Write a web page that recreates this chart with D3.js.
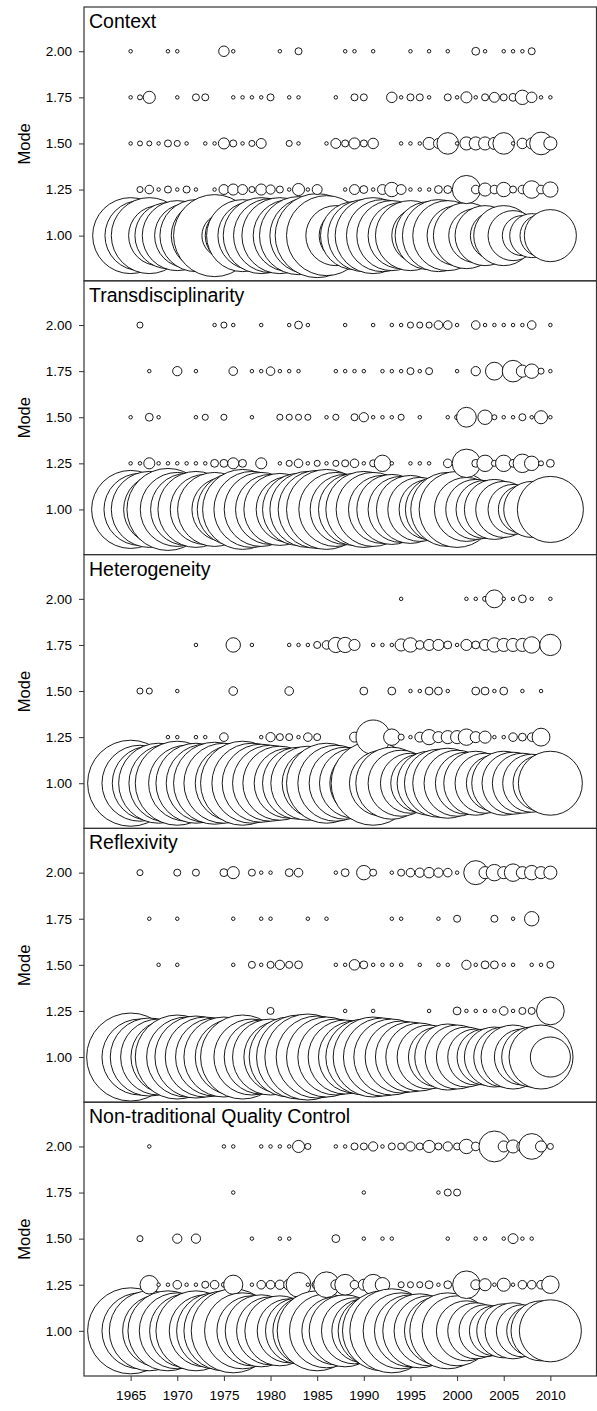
<!DOCTYPE html>
<html><head><meta charset="utf-8">
<script src="https://cdn.jsdelivr.net/npm/d3@7"></script>
<style>body{margin:0;background:#fff}svg{display:block}</style>
</head><body><svg id="chart" width="597" height="1411"></svg>
<script>
// ---------- DATA ----------
const years = [1965,1966,1967,1968,1969,1970,1971,1972,1973,1974,1975,1976,1977,1978,1979,1980,1981,1982,1983,1984,1985,1986,1987,1988,1989,1990,1991,1992,1993,1994,1995,1996,1997,1998,1999,2000,2001,2002,2003,2004,2005,2006,2007,2008,2009,2010];
const modeTicks = [1.00, 1.25, 1.50, 1.75, 2.00];
const yearTicks = [1965, 1970, 1975, 1980, 1985, 1990, 1995, 2000, 2005, 2010];
const panelTitles = ["Context", "Transdisciplinarity", "Heterogeneity", "Reflexivity", "Non-traditional Quality Control"];

// Context  (mode 1.00 counts per year; other modes as [year, count])
const context100 = [471,400,471,294,356,400,334,423,377,549,158,256,423,377,471,447,471,423,497,471,576,522,294,221,377,423,471,423,400,356,400,256,377,423,400,294,356,238,294,188,294,204,131,158,144,221];
const context125 = [[1966,3],[1967,6],[1968,1],[1969,4],[1970,1],[1971,4],[1972,1],[1974,1],[1975,8],[1976,10],[1977,8],[1978,3],[1979,10],[1980,7],[1981,4],[1982,1],[1983,12],[1984,1],[1985,8],[1988,1],[1989,8],[1990,5],[1991,1],[1992,8],[1993,17],[1994,8],[1995,1],[1996,1],[1997,1],[1998,5],[1999,5],[2001,65],[2002,6],[2003,14],[2004,6],[2005,17],[2006,4],[2007,6],[2008,25],[2009,6],[2010,19]];
const context150 = [[1965,1],[1966,2],[1967,2],[1968,1],[1969,4],[1970,3],[1971,1],[1973,1],[1974,1],[1975,10],[1976,4],[1977,1],[1978,3],[1979,8],[1982,3],[1983,1],[1986,1],[1987,8],[1988,4],[1989,10],[1990,4],[1991,9],[1994,1],[1995,1],[1996,1],[1997,12],[1998,8],[1999,38],[2000,1],[2001,14],[2002,14],[2003,14],[2004,12],[2005,38],[2006,1],[2007,9],[2008,10],[2009,42],[2010,14]];
const context175 = [[1965,1],[1966,2],[1967,12],[1970,1],[1972,4],[1973,4],[1976,1],[1977,1],[1978,1],[1979,1],[1980,4],[1982,1],[1983,1],[1987,1],[1989,4],[1990,4],[1993,9],[1994,1],[1995,4],[1996,4],[1997,1],[1999,4],[2000,1],[2001,10],[2002,1],[2003,4],[2004,8],[2005,4],[2006,5],[2007,17],[2008,9],[2009,1],[2010,1]];
const context200 = [[1965,1],[1969,1],[1970,1],[1975,9],[1976,1],[1981,1],[1983,4],[1988,1],[1989,1],[1991,1],[1995,1],[1997,1],[1999,1],[2002,5],[2003,1],[2005,1],[2006,1],[2007,1],[2008,4]];

// Transdisciplinarity
const trans100 = [497,423,471,400,549,447,423,471,400,447,334,423,522,471,447,400,423,356,423,471,497,522,447,400,423,471,447,377,400,356,377,334,294,356,447,471,334,294,275,294,256,204,188,256,158,356];
const trans125 = [[1965,1],[1966,1],[1967,10],[1968,1],[1969,1],[1970,1],[1971,1],[1972,1],[1973,1],[1974,5],[1975,5],[1976,10],[1977,5],[1979,10],[1981,1],[1982,3],[1983,6],[1984,1],[1985,3],[1986,1],[1987,3],[1988,4],[1989,6],[1990,1],[1991,4],[1992,22],[1993,1],[1995,1],[1996,1],[1997,1],[1999,6],[2001,66],[2002,5],[2003,22],[2004,3],[2005,22],[2006,5],[2007,28],[2008,17],[2009,2],[2010,5]];
const trans150 = [[1965,1],[1967,5],[1968,1],[1972,1],[1973,3],[1975,3],[1978,1],[1981,3],[1982,3],[1983,3],[1984,3],[1986,1],[1987,3],[1989,4],[1990,7],[1991,1],[1992,1],[1993,1],[1994,3],[1996,1],[1999,1],[2000,2],[2001,32],[2003,17],[2004,2],[2005,1],[2006,1],[2007,4],[2008,1],[2009,14],[2010,1]];
const trans175 = [[1967,1],[1970,7],[1972,1],[1976,6],[1978,1],[1979,1],[1980,6],[1981,1],[1982,1],[1983,1],[1987,1],[1988,1],[1989,1],[1990,1],[1992,1],[1993,1],[1994,1],[1995,4],[1996,1],[1997,4],[2000,1],[2002,7],[2004,26],[2006,38],[2007,12],[2008,17],[2009,3],[2010,1]];
const trans200 = [[1966,3],[1974,1],[1975,3],[1976,1],[1979,1],[1982,1],[1983,5],[1984,1],[1988,1],[1991,1],[1993,1],[1994,1],[1995,3],[1996,3],[1997,3],[1998,6],[1999,6],[2000,1],[2002,6],[2003,1],[2004,1],[2005,1],[2006,1],[2007,1],[2008,6],[2010,1]];

// Heterogeneity
const hetero100 = [604,471,447,522,497,576,471,522,497,549,522,471,576,522,497,471,447,400,423,447,400,522,471,423,400,377,576,356,423,356,294,275,334,377,400,356,314,334,294,256,334,314,294,275,256,334];
const hetero125 = [[1969,1],[1970,1],[1972,1],[1973,1],[1975,6],[1979,1],[1980,7],[1981,4],[1982,4],[1983,1],[1984,6],[1985,4],[1989,8],[1991,96],[1993,22],[1994,3],[1995,1],[1996,8],[1997,19],[1998,10],[1999,14],[2000,14],[2001,22],[2002,10],[2003,12],[2004,1],[2005,1],[2006,6],[2007,5],[2008,6],[2009,26]];
const hetero150 = [[1966,3],[1967,3],[1970,1],[1976,6],[1982,6],[1990,5],[1993,5],[1995,1],[1996,1],[1997,5],[1998,5],[1999,1],[2002,5],[2003,5],[2004,1],[2005,5],[2007,1],[2009,1]];
const hetero175 = [[1972,1],[1976,17],[1978,1],[1982,1],[1983,1],[1984,1],[1985,4],[1986,6],[1987,19],[1988,19],[1989,10],[1991,1],[1992,1],[1993,1],[1994,12],[1995,17],[1996,6],[1997,10],[1998,10],[1999,5],[2000,1],[2001,10],[2002,5],[2003,10],[2004,17],[2005,14],[2006,14],[2007,14],[2008,22],[2010,37]];
const hetero200 = [[1994,1],[2001,1],[2002,1],[2003,2],[2004,26],[2005,1],[2006,1],[2007,5],[2008,1],[2010,1]];

// Reflexivity
const reflex100 = [632,471,497,471,447,576,522,549,522,497,522,471,576,471,447,471,423,522,576,604,549,522,471,447,423,471,522,497,471,423,400,377,334,294,356,334,294,256,256,294,294,334,256,294,334,131];
const reflex125 = [[1980,4],[1988,1],[1991,1],[1997,1],[2000,5],[2001,1],[2002,1],[2003,1],[2004,1],[2005,6],[2006,1],[2007,4],[2008,4],[2010,63]];
const reflex150 = [[1968,1],[1970,1],[1976,1],[1978,4],[1979,1],[1980,4],[1981,7],[1982,4],[1983,5],[1987,1],[1988,1],[1989,9],[1990,5],[1991,1],[1992,1],[1993,1],[1994,1],[1996,1],[1998,1],[1999,1],[2001,7],[2002,1],[2003,5],[2004,5],[2005,1],[2006,1],[2008,1],[2009,1],[2010,4]];
const reflex175 = [[1967,1],[1970,1],[1976,1],[1979,1],[1980,1],[1984,1],[1986,1],[1993,1],[1994,1],[1998,1],[2000,4],[2004,4],[2006,1],[2008,17]];
const reflex200 = [[1966,3],[1970,4],[1972,4],[1975,5],[1976,12],[1978,4],[1979,1],[1980,1],[1982,5],[1983,6],[1987,1],[1988,5],[1990,17],[1991,4],[1993,1],[1994,4],[1995,6],[1996,7],[1997,9],[1998,7],[1999,6],[2000,1],[2002,47],[2003,12],[2004,22],[2005,12],[2006,25],[2007,12],[2008,17],[2009,12],[2010,14]];

// Non-traditional Quality Control
const ntqc100 = [604,471,522,423,522,471,447,522,423,471,522,576,471,400,423,377,400,334,356,400,522,447,377,423,356,334,400,522,576,471,423,447,400,377,471,400,294,256,221,204,238,256,221,204,294,314];
const ntqc125 = [[1967,28],[1968,1],[1969,1],[1970,6],[1971,1],[1972,1],[1973,4],[1974,6],[1975,2],[1976,30],[1978,1],[1979,6],[1980,6],[1981,7],[1982,10],[1983,50],[1984,1],[1985,8],[1986,54],[1987,8],[1988,35],[1989,6],[1990,10],[1991,35],[1992,17],[1994,3],[1995,3],[1996,3],[1997,5],[1998,1],[1999,5],[2001,62],[2002,8],[2003,12],[2004,1],[2005,14],[2006,1],[2007,6],[2008,6],[2009,6],[2010,25]];
const ntqc150 = [[1966,3],[1970,7],[1972,7],[1978,1],[1981,1],[1982,1],[1987,5],[1990,1],[1992,1],[1993,1],[1999,1],[2002,1],[2003,1],[2005,1],[2006,8],[2007,1],[2008,1]];
const ntqc175 = [[1976,1],[1990,1],[1998,1],[1999,4],[2000,4]];
const ntqc200 = [[1967,1],[1975,1],[1976,1],[1979,1],[1980,1],[1981,1],[1982,1],[1983,12],[1984,3],[1987,1],[1988,1],[1989,4],[1990,4],[1991,7],[1992,1],[1993,4],[1994,4],[1995,7],[1996,4],[1997,12],[1998,4],[1999,7],[2000,4],[2001,17],[2002,6],[2004,78],[2005,10],[2006,14],[2007,10],[2008,54],[2009,10],[2010,3]];

// ---------- BUILD ----------
const panelData = [
  [context100, context125, context150, context175, context200],
  [trans100, trans125, trans150, trans175, trans200],
  [hetero100, hetero125, hetero150, hetero175, hetero200],
  [reflex100, reflex125, reflex150, reflex175, reflex200],
  [ntqc100, ntqc125, ntqc150, ntqc175, ntqc200]
];

function toPoints(set) {
  const pts = [];
  set[0].forEach((n, i) => pts.push({year: years[i], mode: modeTicks[0], n}));
  for (let m = 1; m < 5; m++) set[m].forEach(([yr, n]) => pts.push({year: yr, mode: modeTicks[m], n}));
  pts.sort((a, b) => a.year - b.year || a.mode - b.mode);
  return pts;
}

const svg = d3.select("#chart");
const font = "'Liberation Sans', Arial, sans-serif";
const left = 84, right = 596.5, top0 = 7, panelH = 273.8;
const x = d3.scaleLinear().domain([1960, 2015]).range([84, 597]);
const r = d3.scaleSqrt().domain([0, 1]).range([0, 1.75]);

panelData.forEach((set, i) => {
  const top = top0 + i * panelH, bottom = top + panelH;
  const y = d3.scaleLinear().domain([0.755, 2.24]).range([bottom, top]);
  const g = svg.append("g");

  g.append("clipPath").attr("id", "clip" + i)
    .append("rect").attr("x", left).attr("y", top).attr("width", right - left).attr("height", panelH);

  g.append("g").attr("clip-path", `url(#clip${i})`)
    .selectAll("circle").data(toPoints(set)).join("circle")
    .attr("cx", d => x(d.year)).attr("cy", d => y(d.mode)).attr("r", d => r(d.n))
    .attr("fill", "#fff").attr("stroke", "#000").attr("stroke-width", 0.9);

  g.append("rect").attr("x", left).attr("y", top).attr("width", right - left).attr("height", panelH)
    .attr("fill", "none").attr("stroke", "#333").attr("stroke-width", 1.2);

  const ay = g.append("g").attr("transform", `translate(${left},0)`)
    .call(d3.axisLeft(y).tickValues(modeTicks).tickFormat(d3.format(".2f")).tickSize(5).tickPadding(7));
  ay.select(".domain").remove();
  ay.selectAll("text").attr("font-size", 13.5).attr("font-family", font).attr("fill", "#000");
  ay.selectAll("line").attr("stroke", "#333");

  g.append("text").attr("x", 89).attr("y", top + 21).attr("font-size", 19.5).attr("font-family", font)
    .attr("fill", "#000").text(panelTitles[i]);

  g.append("text").attr("transform", `translate(30,${top + panelH / 2}) rotate(-90)`)
    .attr("text-anchor", "middle").attr("font-size", 16.5).attr("font-family", font).attr("fill", "#000").text("Mode");

  if (i === panelData.length - 1) {
    const ax = g.append("g").attr("transform", `translate(0,${bottom})`)
      .call(d3.axisBottom(x).tickValues(yearTicks).tickFormat(d3.format("d")).tickSize(5).tickPadding(9));
    ax.select(".domain").remove();
    ax.selectAll("text").attr("font-size", 13.5).attr("font-family", font).attr("fill", "#000");
    ax.selectAll("line").attr("stroke", "#333");
  }
});
</script></body></html>
